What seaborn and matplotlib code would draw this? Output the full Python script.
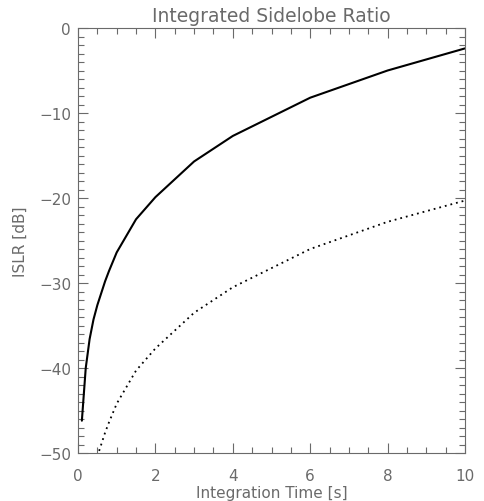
import numpy as np
import pandas as pd
import matplotlib
matplotlib.use("Agg")
import matplotlib.pyplot as plt
from matplotlib.ticker import MultipleLocator
import seaborn as sns

# Data
t_solid = [0.1, 0.2, 0.3, 0.4, 0.5, 0.6, 0.7, 0.8, 0.9, 1.0, 1.5, 2, 3, 4, 6, 8, 10]
islr_solid = [-46.2, -40.0, -36.6, -34.3, -32.6, -31.2, -29.8, -28.6, -27.5, -26.4,
              -22.5, -19.9, -15.7, -12.7, -8.2, -5.0, -2.4]
t_dotted = [0.5, 0.6, 0.7, 0.8, 0.9, 1.0, 1.5, 2, 3, 4, 6, 8, 10]
islr_dotted = [-50.4, -49.0, -47.6, -46.4, -45.3, -44.2, -40.3, -37.7, -33.5,
               -30.5, -26.0, -22.8, -20.3]

title = "Integrated Sidelobe Ratio"
xlabel = "Integration Time [s]"
ylabel = "ISLR [dB]"

sns.set_style("ticks")
plt.rcParams['font.family'] = ['DejaVu Sans']

gray = "#6a6a6a"
fig = plt.figure(figsize=(4.84, 5.02), dpi=100)
ax = fig.add_axes([78/484, 1-454/502, (465-78)/484, (454-29)/502])

df_s = pd.DataFrame({"t": t_solid, "v": islr_solid})
df_d = pd.DataFrame({"t": t_dotted, "v": islr_dotted})
sns.lineplot(data=df_s, x="t", y="v", ax=ax, color="black", linewidth=1.5, sort=False)
sns.lineplot(data=df_d, x="t", y="v", ax=ax, color="black", linewidth=1.3,
             linestyle=(0, (1, 2.2)), sort=False)

ax.set_xlim(0, 10)
ax.set_ylim(-50, 0)
ax.xaxis.set_major_locator(MultipleLocator(2))
ax.xaxis.set_minor_locator(MultipleLocator(0.5))
ax.yaxis.set_major_locator(MultipleLocator(10))
ax.yaxis.set_minor_locator(MultipleLocator(1))
ax.tick_params(which="both", direction="in", top=True, right=True, color=gray,
               labelcolor=gray, labelsize=11, width=0.8)
ax.tick_params(which="major", length=7)
ax.tick_params(which="minor", length=4)
ax.tick_params(axis="x", pad=11)
ax.tick_params(axis="y", pad=5)
for s in ax.spines.values():
    s.set_color(gray)
    s.set_linewidth(0.8)

ax.set_title(title, color=gray, fontsize=13.5, pad=5)
ax.set_xlabel(xlabel, color=gray, fontsize=11, labelpad=1)
ax.set_ylabel(ylabel, color=gray, fontsize=11, labelpad=8)

fig.savefig("out.png", dpi=100)
